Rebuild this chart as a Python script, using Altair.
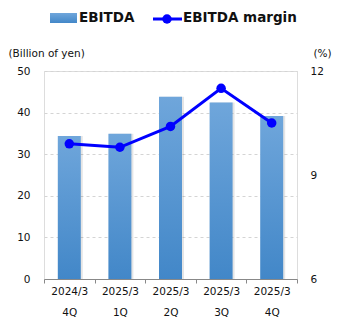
import altair as alt
import pandas as pd

periods = ["2024/3\n4Q", "2025/3\n1Q", "2025/3\n2Q", "2025/3\n3Q", "2025/3\n4Q"]
ebitda = [34.4, 34.9, 43.8, 42.4, 39.2]
margin = [9.9, 9.8, 10.4, 11.5, 10.5]
series_names = ["EBITDA", "EBITDA margin"]

df = pd.DataFrame({"period": periods, "ebitda": ebitda, "margin": margin})

FONT = "DejaVu Sans"

x_enc = alt.X(
    "period:N",
    sort=periods,
    scale=alt.Scale(paddingInner=0, paddingOuter=0),
    axis=alt.Axis(
        title=None,
        labelAngle=0,
        labelAlign="center",
        labelExpr="split(datum.label, '\\n')",
        labelLineHeight=21,
        labelFont=FONT,
        labelFontSize=10.5,
        labelColor="#111",
        labelPadding=3,
        labelBaseline="top",
        tickBand="extent",
        tickSize=4,
        tickColor="#888",
        domainColor="#888",
        grid=False,
    ),
)

grad = alt.Gradient(
    gradient="linear",
    stops=[alt.GradientStop(color="#6FA6DB", offset=0), alt.GradientStop(color="#4287C8", offset=1)],
    x1=0, x2=0, y1=0, y2=1,
)

y_left_scale = alt.Scale(domain=[0, 50], nice=False, zero=True)

bars = alt.Chart(df).mark_bar(size=23, color=grad).encode(
    x=x_enc,
    y=alt.Y(
        "ebitda:Q",
        scale=y_left_scale,
        axis=alt.Axis(
            values=[0, 10, 20, 30, 40, 50],
            title="(Billion of yen)",
            titleAngle=0,
            titleAlign="left",
            titleBaseline="middle",
            titleX=-36,
            titleY=-18,
            titleFont=FONT,
            titleFontSize=10.5,
            titleFontWeight="normal",
            titleColor="#111",
            labelFont=FONT,
            labelFontSize=10.5,
            labelColor="#111",
            labelPadding=14,
            ticks=False,
            domain=False,
            grid=True,
            gridColor="#d4d4d4",
            gridDash=[3, 3],
        ),
    ),
)

shadow = alt.Chart(df).mark_bar(size=24, color="#000", opacity=0.1, xOffset=1.5).encode(
    x=alt.X("period:N", sort=periods),
    y=alt.Y("ebitda:Q", scale=y_left_scale),
)

left = alt.layer(shadow, bars)

line = alt.Chart(df).mark_line(color="#0000FF", strokeWidth=3, point=alt.OverlayMarkDef(color="#0000FF", size=90, filled=True, opacity=1)).encode(
    x=alt.X("period:N", sort=periods),
    y=alt.Y(
        "margin:Q",
        scale=alt.Scale(domain=[6, 12], nice=False, zero=False),
        axis=alt.Axis(
            orient="right",
            values=[6, 9, 12],
            title="(%)",
            titleAngle=0,
            titleAlign="left",
            titleBaseline="middle",
            titleX=16,
            titleY=-18,
            titleFont=FONT,
            titleFontSize=10.5,
            titleFontWeight="normal",
            titleColor="#111",
            labelFont=FONT,
            labelFontSize=10.5,
            labelColor="#111",
            labelPadding=13,
            ticks=False,
            domain=False,
            grid=False,
        ),
    ),
)

leg = pd.DataFrame({"name": series_names})
leg_rect = alt.Chart(leg).transform_filter(alt.datum.name == "EBITDA").mark_rect(color=grad).encode(
    x=alt.value(6), x2=alt.value(33), y=alt.value(-58), y2=alt.value(-48)
)
leg_text1 = alt.Chart(leg).transform_filter(alt.datum.name == "EBITDA").mark_text(
    font=FONT, fontSize=13.5, fontWeight="bold", align="left", baseline="middle", color="#111"
).encode(x=alt.value(35), y=alt.value(-53), text="name:N")
leg_line = alt.Chart(leg).transform_filter(alt.datum.name == "EBITDA margin").mark_rule(color="#0000FF", strokeWidth=3).encode(
    x=alt.value(109), x2=alt.value(138), y=alt.value(-52)
)
leg_pt = alt.Chart(leg).transform_filter(alt.datum.name == "EBITDA margin").mark_point(color="#0000FF", filled=True, size=90, opacity=1).encode(
    x=alt.value(123), y=alt.value(-52)
)
leg_text2 = alt.Chart(leg).transform_filter(alt.datum.name == "EBITDA margin").mark_text(
    font=FONT, fontSize=13.5, fontWeight="bold", align="left", baseline="middle", color="#111"
).encode(x=alt.value(139), y=alt.value(-53), text="name:N")

chart = alt.layer(
    left, line, leg_rect, leg_text1, leg_line, leg_pt, leg_text2
).resolve_scale(y="independent").properties(
    width=253,
    height=208,
    autosize=alt.AutoSizeParams(type="none"),
    padding={"left": 44, "top": 71, "right": 48, "bottom": 51},
).configure_view(stroke=None).configure(background="white")

chart.save("out.html", embed_options={"renderer": "svg", "actions": False})
